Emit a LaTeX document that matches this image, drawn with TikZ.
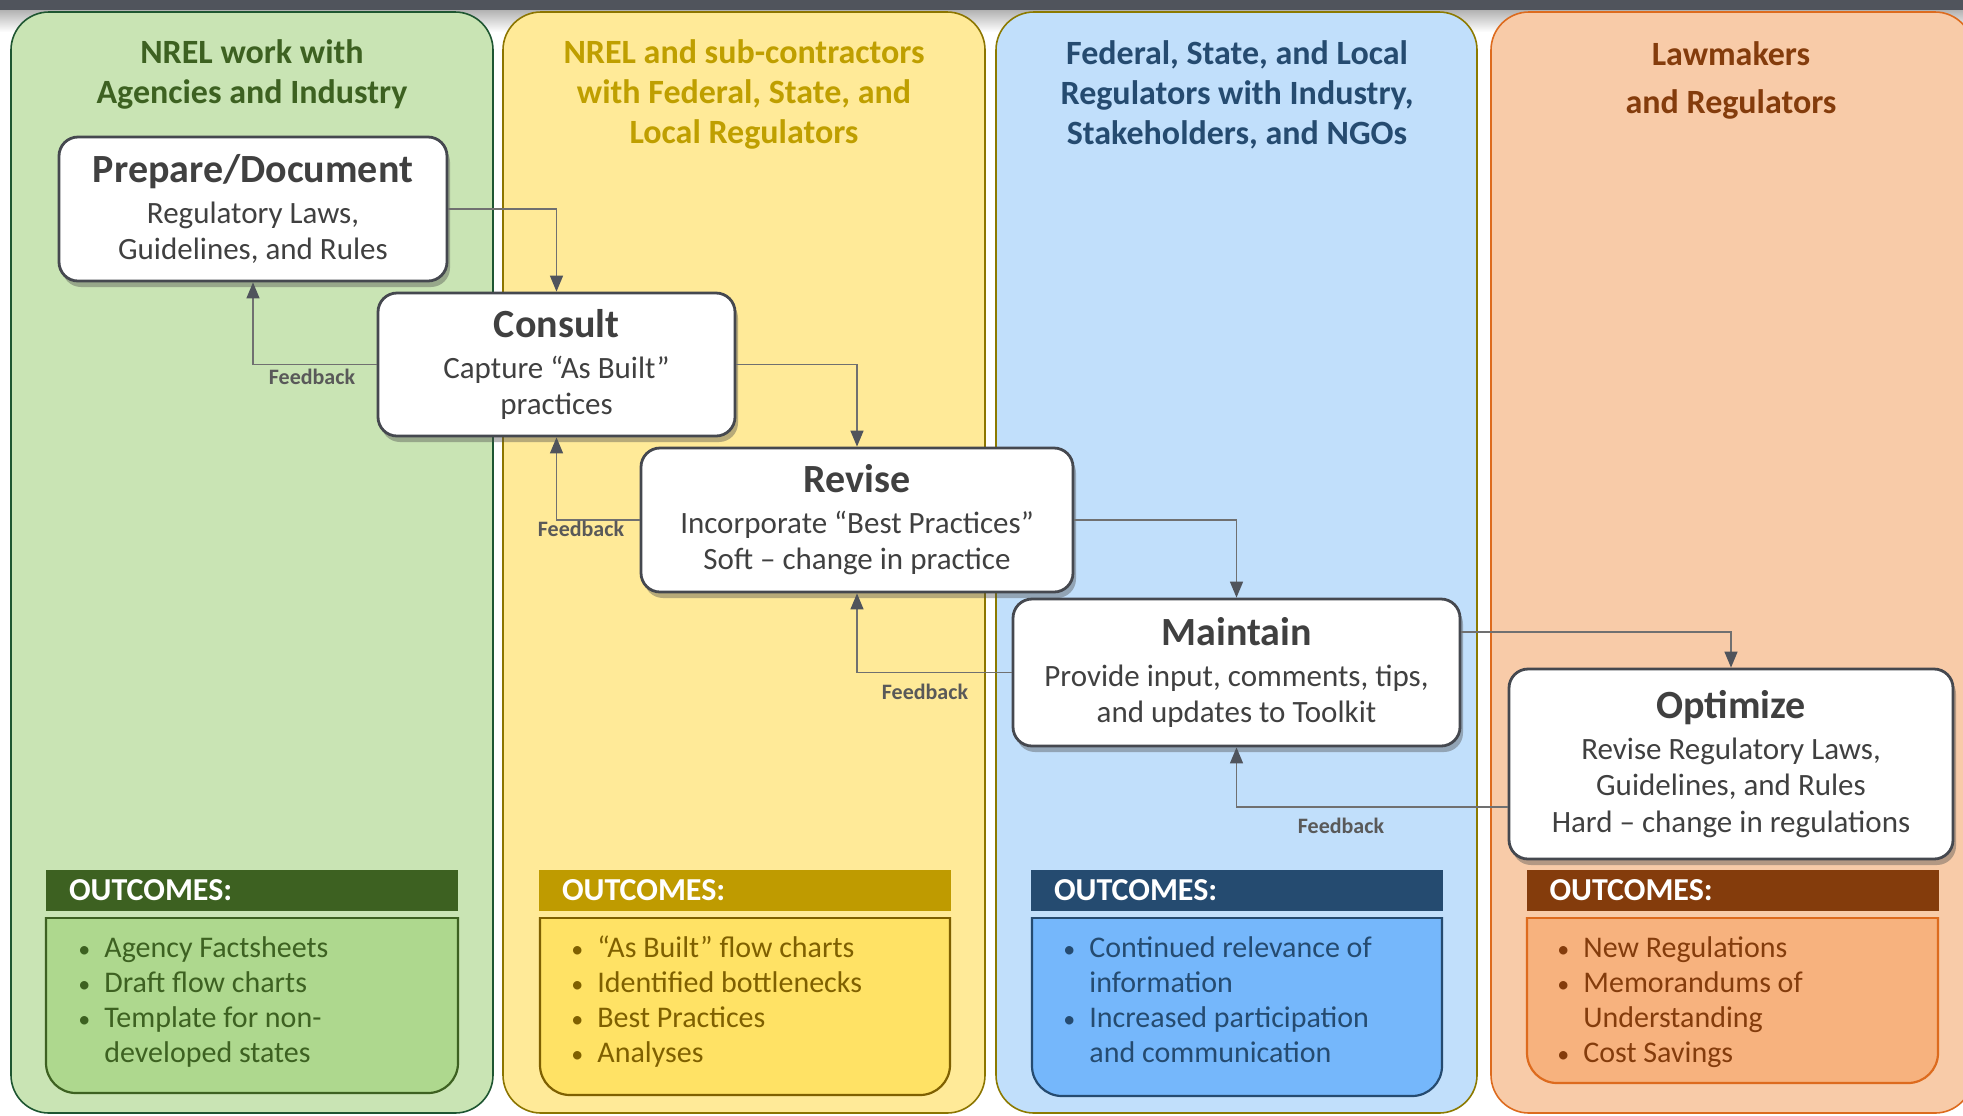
\documentclass[tikz,border=0pt]{standalone}
\usepackage{fontspec}
\usepackage{graphicx}
\setmainfont{Carlito}
\usetikzlibrary{shadows,arrows.meta}
\definecolor{topbar}{HTML}{50545C}
\definecolor{gA}{HTML}{C9E4B4}
\definecolor{gB}{HTML}{1E5631}
\definecolor{gT}{HTML}{3D6121}
\definecolor{gF}{HTML}{AED88E}
\definecolor{yA}{HTML}{FFEA98}
\definecolor{yB}{HTML}{8C7500}
\definecolor{yT}{HTML}{BF9F00}
\definecolor{yH}{HTML}{BF9B00}
\definecolor{yF}{HTML}{FFE265}
\definecolor{yX}{HTML}{7F6000}
\definecolor{bA}{HTML}{C1DFFB}
\definecolor{bB}{HTML}{8C7A00}
\definecolor{bT}{HTML}{254B70}
\definecolor{bF}{HTML}{75B7FB}
\definecolor{oA}{HTML}{F8CBA8}
\definecolor{oB}{HTML}{DD6B1E}
\definecolor{oT}{HTML}{843C0C}
\definecolor{oF}{HTML}{F7B27E}
\definecolor{boxborder}{HTML}{45484F}
\definecolor{boxtext}{HTML}{404040}
\definecolor{linec}{HTML}{707070}
\definecolor{tipc}{HTML}{50545C}
\definecolor{fbc}{HTML}{595959}
\pgfdeclareverticalshading{bevel}{100bp}{color(0bp)=(black!40); color(10bp)=(white); color(100bp)=(white)}
\newcommand\prtitle{\fontsize{20}{24}\selectfont\bfseries}
\newcommand\bl{\makebox[14pt][l]{\hspace{1pt}\scalebox{0.8}{\textbullet}}}
\newcommand\ind{\hspace*{14pt}}
\begin{document}
\begin{tikzpicture}[x=0.5pt,y=-0.5pt,
  column/.style={line width=0.8pt, rounded corners=19pt},
  coltitle/.style={anchor=base, inner sep=0pt, font=\fontsize{17}{20}\selectfont\bfseries},
  procbox/.style={draw=boxborder, line width=1.4pt, rounded corners=9.5pt, shading=bevel, align=center, text=boxtext, inner sep=0pt, font=\fontsize{15.5}{18.3}\selectfont, drop shadow={shadow xshift=1.5pt, shadow yshift=-3pt, opacity=0.4, fill=black!70}},
  conn/.style={draw=linec, line width=0.7pt, -{Triangle[width=6.5pt,length=8pt,color=tipc]}},
  fb/.style={font=\fontsize{11}{13}\selectfont\bfseries, text=fbc, inner sep=0pt},
  hdr/.style={minimum width=206pt, minimum height=20.5pt, inner xsep=11.5pt, inner ysep=0pt, text width=183pt, align=left, font=\fontsize{16}{19}\selectfont\bfseries, text=white},
  bul/.style={anchor=base west, inner sep=0pt, font=\fontsize{15}{17.5}\selectfont}
]
\useasboundingbox (0,0) rectangle (1963,1115);
\fill[white] (0,0) rectangle (1963,1115);
% top bar
\shade[top color=black!30, bottom color=white] (0,10) rectangle (1963,32);
\fill[topbar] (0,0) rectangle (1963,10);
% columns
\draw[column, fill=gA, draw=gB] (11,12) rectangle (493,1113);
\draw[column, fill=yA, draw=yB] (503,12) rectangle (985,1113);
\draw[column, fill=bA, draw=bB] (996,12) rectangle (1477,1113);
\draw[column, fill=oA, draw=oB] (1491,12) rectangle (1973,1113);
% column titles
\node[coltitle, text=gT] (t1) at (252,63) {\begin{tabular}[t]{@{}c@{}}NREL work with\\Agencies and Industry\end{tabular}};
\node[coltitle, text=yT] (t2) at (744,63) {\begin{tabular}[t]{@{}c@{}}NREL and sub-contractors\\with Federal, State, and\\Local Regulators\end{tabular}};
\node[coltitle, text=bT] (t3) at (1237,64) {\begin{tabular}[t]{@{}c@{}}Federal, State, and Local\\Regulators with Industry,\\Stakeholders, and NGOs\end{tabular}};
\node[coltitle, text=oT, font=\fontsize{17}{24}\selectfont\bfseries] (t4) at (1731,65) {\begin{tabular}[t]{@{}c@{}}Lawmakers\\and Regulators\end{tabular}};
% process boxes
\node[procbox, minimum width=194pt, minimum height=72pt] (prep) at (253,209) {{\prtitle Prepare/Document}\\[2pt]Regulatory Laws,\\Guidelines, and Rules};
\node[procbox, minimum width=178.5pt, minimum height=71.5pt] (cons) at (556.5,364.5) {{\prtitle Consult}\\[2pt]Capture “As Built”\\practices};
\node[procbox, minimum width=216pt, minimum height=72pt] (rev) at (857,520) {{\prtitle Revise}\\[2pt]Incorporate “Best Practices”\\Soft – change in practice};
\node[procbox, minimum width=223.5pt, minimum height=73.5pt] (main) at (1236.5,672.5) {{\prtitle Maintain}\\[2pt]Provide input, comments, tips,\\and updates to Toolkit};
\node[procbox, minimum width=222pt, minimum height=95pt] (opt) at (1731,764) {{\prtitle Optimize}\\[2pt]Revise Regulatory Laws,\\Guidelines, and Rules\\Hard – change in regulations};
% connectors
\draw[conn] (prep.east) -| (cons.north);
\draw[conn] (cons.west) -| (prep.south);
\draw[conn] (cons.east) -| (rev.north);
\draw[conn] (rev.west) -| (cons.south);
\draw[conn] (rev.east) -| (main.north);
\draw[conn] (main.west) -| (rev.south);
\draw[conn] ([yshift=20.25pt]main.east) -| (opt.north);
\draw[conn] ([yshift=-21.5pt]opt.west) -| (main.south);
% feedback labels
\node[fb] (f1) at (312,377) {Feedback};
\node[fb] (f2) at (581,529) {Feedback};
\node[fb] (f3) at (925,692) {Feedback};
\node[fb] (f4) at (1341,826) {Feedback};
% outcome bodies
\foreach \xa/\xb/\yb/\fc/\dc in {46/458/1093/gF/gT, 540/950/1095/yF/yX, 1032/1442/1096/bF/bT, 1527/1938/1083/oF/oB}{
  \begin{scope}
    \clip (\xa-5,917.5) rectangle (\xb+5,\yb+6);
    \draw[fill=\fc, draw=\dc, line width=1.1pt, rounded corners=15pt] (\xa,880) rectangle (\xb,\yb);
  \end{scope}
  \draw[draw=\dc, line width=1.1pt, line cap=rect] (\xa,918) -- (\xb,918);
}
% outcome headers
\node[hdr, fill=gT] (h1) at (252,890.5) {OUTCOMES:};
\node[hdr, fill=yH] (h2) at (745,890.5) {OUTCOMES:};
\node[hdr, fill=bT] (h3) at (1237,890.5) {OUTCOMES:};
\node[hdr, fill=oT] (h4) at (1732.5,890.5) {OUTCOMES:};
% outcome lists
\node[bul, text=gT] (o1) at (76,957) {\begin{tabular}[t]{@{}l@{}}\bl Agency Factsheets\\\bl Draft flow charts\\\bl Template for non-\\\ind developed states\end{tabular}};
\node[bul, text=yX] (o2) at (569,957) {\begin{tabular}[t]{@{}l@{}}\bl “As Built” flow charts\\\bl Identified bottlenecks\\\bl Best Practices\\\bl Analyses\end{tabular}};
\node[bul, text=bT] (o3) at (1061,957) {\begin{tabular}[t]{@{}l@{}}\bl Continued relevance of\\\ind information\\\bl Increased participation\\\ind and communication\end{tabular}};
\node[bul, text=oT] (o4) at (1555,957) {\begin{tabular}[t]{@{}l@{}}\bl New Regulations\\\bl Memorandums of\\\ind Understanding\\\bl Cost Savings\end{tabular}};
\end{tikzpicture}
\end{document}
